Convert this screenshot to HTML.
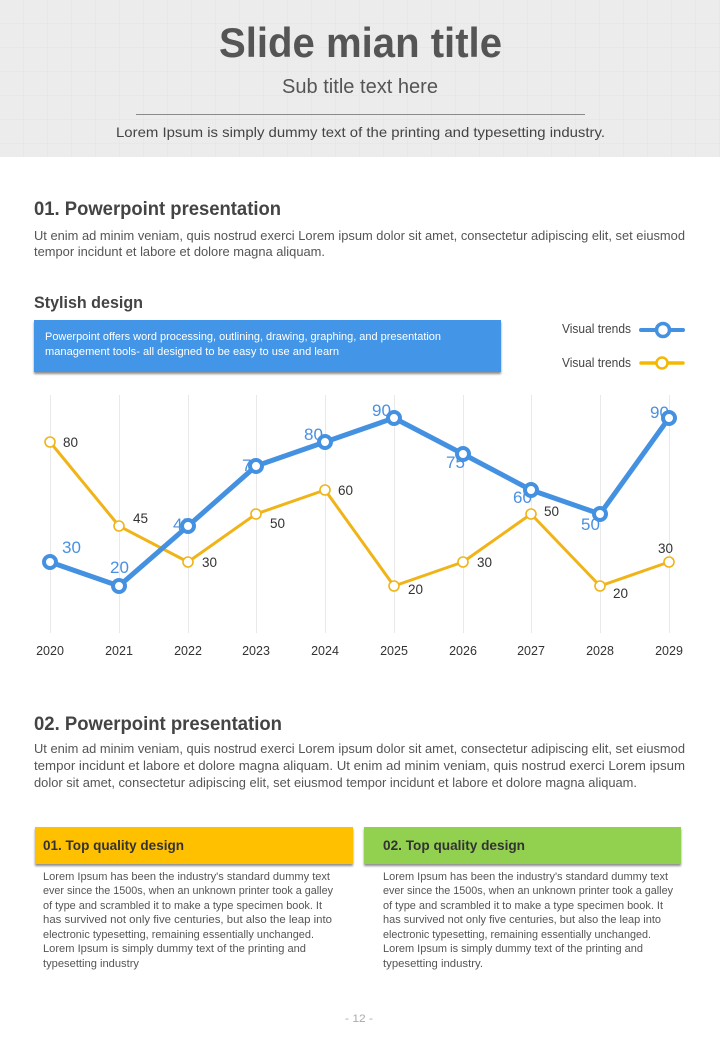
<!DOCTYPE html>
<html><head><meta charset="utf-8"><style>
html,body{margin:0;padding:0;background:#fff;}
svg{display:block;}
text{font-family:"Liberation Sans",sans-serif;}
</style></head><body>
<svg width="720" height="1040" viewBox="0 0 720 1040" xmlns="http://www.w3.org/2000/svg">
<defs>
<pattern id="grid" width="24" height="24" patternUnits="userSpaceOnUse">
<rect width="24" height="24" fill="#ececec"/>
<path d="M24 0V24M0 24H24" stroke="#e3e3e3" stroke-width="1"/>
</pattern>
<filter id="sh" x="-5%" y="-20%" width="110%" height="150%">
<feDropShadow dx="0" dy="2" stdDeviation="1" flood-color="#000" flood-opacity="0.45"/>
</filter>
</defs>
<rect width="720" height="1040" fill="#fff"/>
<!-- header -->
<rect x="0" y="0" width="720" height="157" fill="url(#grid)"/>
<text x="219" y="57" font-size="42" font-weight="bold" fill="#555" textLength="283" lengthAdjust="spacingAndGlyphs">Slide mian title</text>
<text x="282" y="93" font-size="20" fill="#555" textLength="156" lengthAdjust="spacingAndGlyphs">Sub title text here</text>
<line x1="136" y1="114.5" x2="585" y2="114.5" stroke="#8a8a8a" stroke-width="1"/>
<text x="116" y="137" font-size="14" fill="#444" textLength="489" lengthAdjust="spacingAndGlyphs">Lorem Ipsum is simply dummy text of the printing and typesetting industry.</text>

<!-- section 01 -->
<text x="34" y="215" font-size="19" font-weight="bold" fill="#444" textLength="247" lengthAdjust="spacingAndGlyphs">01. Powerpoint presentation</text>
<text x="34" y="240" font-size="13" fill="#555" textLength="651" lengthAdjust="spacingAndGlyphs">Ut enim ad minim veniam, quis nostrud exerci  Lorem ipsum dolor sit amet, consectetur adipiscing elit, set eiusmod</text>
<text x="34" y="256" font-size="13" fill="#555" textLength="291" lengthAdjust="spacingAndGlyphs">tempor incidunt et labore et dolore magna aliquam.</text>

<text x="34" y="308" font-size="17" font-weight="bold" fill="#444" textLength="109" lengthAdjust="spacingAndGlyphs">Stylish design</text>
<rect x="34" y="320" width="467" height="52" fill="#4395e7" filter="url(#sh)"/>
<text x="45" y="340" font-size="11" fill="#fff" textLength="396" lengthAdjust="spacingAndGlyphs">Powerpoint offers word processing, outlining, drawing, graphing, and presentation</text>
<text x="45" y="355" font-size="11" fill="#fff" textLength="294" lengthAdjust="spacingAndGlyphs">management tools- all designed to be easy to use and learn</text>

<!-- legend -->
<text x="562" y="333" font-size="12.5" fill="#444" textLength="69" lengthAdjust="spacingAndGlyphs">Visual trends</text>
<line x1="641" y1="330" x2="683" y2="330" stroke="#4591e1" stroke-width="4" stroke-linecap="round"/>
<circle cx="663" cy="330" r="6.5" fill="#fff" stroke="#4591e1" stroke-width="3.5"/>
<text x="562" y="367" font-size="12.5" fill="#444" textLength="69" lengthAdjust="spacingAndGlyphs">Visual trends</text>
<line x1="641" y1="363" x2="683" y2="363" stroke="#f5b800" stroke-width="3.5" stroke-linecap="round"/>
<circle cx="662" cy="363" r="5.5" fill="#fff" stroke="#f5b800" stroke-width="2.5"/>

<!-- chart gridlines -->
<g stroke="#e9e9e9" stroke-width="1">
<line x1="50.5" y1="395" x2="50.5" y2="633"/>
<line x1="119.5" y1="395" x2="119.5" y2="633"/>
<line x1="188.5" y1="395" x2="188.5" y2="633"/>
<line x1="256.5" y1="395" x2="256.5" y2="633"/>
<line x1="325.5" y1="395" x2="325.5" y2="633"/>
<line x1="394.5" y1="395" x2="394.5" y2="633"/>
<line x1="463.5" y1="395" x2="463.5" y2="633"/>
<line x1="531.5" y1="395" x2="531.5" y2="633"/>
<line x1="600.5" y1="395" x2="600.5" y2="633"/>
<line x1="669.5" y1="395" x2="669.5" y2="633"/>
</g>
<!-- x labels -->
<g font-size="12.5" fill="#333" text-anchor="middle">
<text x="50" y="655">2020</text>
<text x="119" y="655">2021</text>
<text x="188" y="655">2022</text>
<text x="256" y="655">2023</text>
<text x="325" y="655">2024</text>
<text x="394" y="655">2025</text>
<text x="463" y="655">2026</text>
<text x="531" y="655">2027</text>
<text x="600" y="655">2028</text>
<text x="669" y="655">2029</text>
</g>
<!-- blue labels -->
<g font-size="17" fill="#4a90e2">
<text x="62" y="553">30</text>
<text x="110" y="573">20</text>
<text x="173" y="530">45</text>
<text x="242" y="471">70</text>
<text x="304" y="440">80</text>
<text x="372" y="416">90</text>
<text x="446" y="468">75</text>
<text x="513" y="503">60</text>
<text x="581" y="530">50</text>
<text x="650" y="418">90</text>
</g>
<!-- yellow labels -->
<g font-size="13.5" fill="#333">
<text x="63" y="447">80</text>
<text x="133" y="523">45</text>
<text x="202" y="567">30</text>
<text x="270" y="528">50</text>
<text x="338" y="495">60</text>
<text x="408" y="594">20</text>
<text x="477" y="567">30</text>
<text x="544" y="516">50</text>
<text x="613" y="598">20</text>
<text x="658" y="553">30</text>
</g>
<!-- yellow series -->
<polyline points="50,442 119,526 188,562 256,514 325,490 394,586 463,562 531,514 600,586 669,562" fill="none" stroke="#f0b418" stroke-width="3" stroke-linejoin="round"/>
<!-- blue series -->
<polyline points="50,562 119,586 188,526 256,466 325,442 394,418 463,454 531,490 600,514 669,418" fill="none" stroke="#4591e1" stroke-width="5" stroke-linejoin="round"/>
<g fill="#fff" stroke="#f0b418" stroke-width="1.6">
<circle cx="50" cy="442" r="5"/>
<circle cx="119" cy="526" r="5"/>
<circle cx="188" cy="562" r="5"/>
<circle cx="256" cy="514" r="5"/>
<circle cx="325" cy="490" r="5"/>
<circle cx="394" cy="586" r="5"/>
<circle cx="463" cy="562" r="5"/>
<circle cx="531" cy="514" r="5"/>
<circle cx="600" cy="586" r="5"/>
<circle cx="669" cy="562" r="5"/>
</g>
<g fill="#fff" stroke="#4591e1" stroke-width="4">
<circle cx="50" cy="562" r="6"/>
<circle cx="119" cy="586" r="6"/>
<circle cx="188" cy="526" r="6"/>
<circle cx="256" cy="466" r="6"/>
<circle cx="325" cy="442" r="6"/>
<circle cx="394" cy="418" r="6"/>
<circle cx="463" cy="454" r="6"/>
<circle cx="531" cy="490" r="6"/>
<circle cx="600" cy="514" r="6"/>
<circle cx="669" cy="418" r="6"/>
</g>

<!-- section 02 -->
<text x="34" y="730" font-size="19" font-weight="bold" fill="#444" textLength="248" lengthAdjust="spacingAndGlyphs">02. Powerpoint presentation</text>
<text x="34" y="753" font-size="13" fill="#555" textLength="651" lengthAdjust="spacingAndGlyphs">Ut enim ad minim veniam, quis nostrud exerci  Lorem ipsum dolor sit amet, consectetur adipiscing elit, set eiusmod</text>
<text x="34" y="770" font-size="13" fill="#555" textLength="651" lengthAdjust="spacingAndGlyphs">tempor incidunt et labore et dolore magna aliquam. Ut enim ad minim veniam, quis nostrud exerci   Lorem ipsum</text>
<text x="34" y="787" font-size="13" fill="#555" textLength="603" lengthAdjust="spacingAndGlyphs">dolor sit amet, consectetur adipiscing elit, set eiusmod tempor incidunt et labore et dolore magna aliquam.</text>

<!-- cards -->
<rect x="35" y="827" width="318" height="37" fill="#ffc000" filter="url(#sh)"/>
<text x="43" y="850" font-size="14" font-weight="bold" fill="#333" textLength="141" lengthAdjust="spacingAndGlyphs">01. Top quality design</text>
<g font-size="11" fill="#555">
<text x="43" y="880" textLength="287" lengthAdjust="spacingAndGlyphs">Lorem Ipsum has been the industry's standard dummy text</text>
<text x="43" y="894" textLength="290" lengthAdjust="spacingAndGlyphs">ever since the 1500s, when an unknown printer took a galley</text>
<text x="43" y="909" textLength="279" lengthAdjust="spacingAndGlyphs">of type and scrambled it to make a type specimen book. It</text>
<text x="43" y="923" textLength="289" lengthAdjust="spacingAndGlyphs">has survived not only five centuries, but also the leap into</text>
<text x="43" y="938" textLength="271" lengthAdjust="spacingAndGlyphs">electronic typesetting, remaining essentially unchanged.</text>
<text x="43" y="952" textLength="263" lengthAdjust="spacingAndGlyphs">Lorem Ipsum is simply dummy text of the printing and</text>
<text x="43" y="967" textLength="96" lengthAdjust="spacingAndGlyphs">typesetting industry</text>
</g>

<rect x="364" y="827" width="317" height="37" fill="#92d050" filter="url(#sh)"/>
<text x="383" y="850" font-size="14" font-weight="bold" fill="#333" textLength="142" lengthAdjust="spacingAndGlyphs">02. Top quality design</text>
<g font-size="11" fill="#555">
<text x="383" y="880" textLength="285" lengthAdjust="spacingAndGlyphs">Lorem Ipsum has been the industry's standard dummy text</text>
<text x="383" y="894" textLength="290" lengthAdjust="spacingAndGlyphs">ever since the 1500s, when an unknown printer took a galley</text>
<text x="383" y="909" textLength="280" lengthAdjust="spacingAndGlyphs">of type and scrambled it to make a type specimen book. It</text>
<text x="383" y="923" textLength="278" lengthAdjust="spacingAndGlyphs">has survived not only five centuries, but also the leap into</text>
<text x="383" y="938" textLength="268" lengthAdjust="spacingAndGlyphs">electronic typesetting, remaining essentially unchanged.</text>
<text x="383" y="952" textLength="260" lengthAdjust="spacingAndGlyphs">Lorem Ipsum is simply dummy text of the printing and</text>
<text x="383" y="967" textLength="100" lengthAdjust="spacingAndGlyphs">typesetting industry.</text>
</g>

<!-- footer -->
<text x="345" y="1022" font-size="11" fill="#aaa" textLength="28" lengthAdjust="spacingAndGlyphs">- 12 -</text>
</svg>
</body></html>
